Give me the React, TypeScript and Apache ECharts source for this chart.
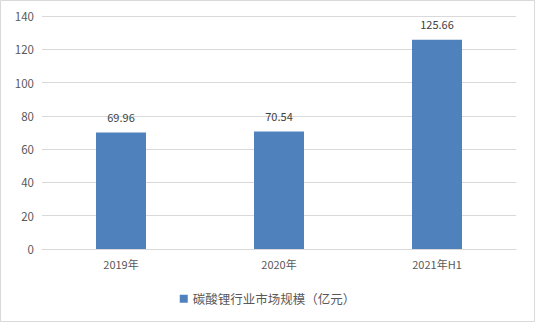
import React, { useEffect, useRef } from "react";
import * as echarts from "echarts";

const categories = ["2019年", "2020年", "2021年H1"];
const values = [69.96, 70.54, 125.66];
const seriesName = "碳酸锂行业市场规模（亿元）";

export default function App() {
  const ref = useRef<HTMLDivElement>(null);
  useEffect(() => {
    const chart = echarts.init(ref.current!, null, { renderer: "svg" });
    const font = "'Noto Sans CJK SC', 'Noto Sans', sans-serif";
    chart.setOption({
      animation: false,
      textStyle: { fontFamily: font },
      graphic: [
        {
          type: "rect",
          shape: { x: 0.5, y: 0.5, width: 534, height: 321 },
          style: { fill: "none", stroke: "#d9d9d9", lineWidth: 1 },
          silent: true,
        },
      ],
      grid: { left: 42, right: 19, top: 16, bottom: 73 },
      legend: {
        bottom: 12,
        left: "center",
        itemWidth: 8,
        itemHeight: 8,
        icon: "rect",
        itemGap: 6,
        textStyle: { color: "#595959", fontSize: 12.5, fontFamily: font },
        data: [seriesName],
      },
      xAxis: {
        type: "category",
        data: categories,
        axisLine: { lineStyle: { color: "#d9d9d9" } },
        axisTick: { show: false },
        axisLabel: { color: "#595959", fontSize: 11, margin: 9, fontFamily: font },
      },
      yAxis: {
        type: "value",
        min: 0,
        max: 140,
        interval: 20,
        axisLine: { show: false },
        axisTick: { show: false },
        axisLabel: { color: "#595959", fontSize: 11.5, margin: 8, fontFamily: font },
        splitLine: { lineStyle: { color: "#d9d9d9" } },
      },
      series: [
        {
          name: seriesName,
          type: "bar",
          data: values,
          barWidth: 50,
          itemStyle: { color: "#4f81bd" },
          label: {
            show: true,
            position: "top",
            distance: 10,
            color: "#404040",
            fontSize: 11,
            fontFamily: font,
          },
        },
      ],
    });
    return () => chart.dispose();
  }, []);
  return (
    <div
      ref={ref}
      style={{ position: "fixed", left: 0, top: 0, width: 535, height: 322, background: "#fff" }}
    />
  );
}
